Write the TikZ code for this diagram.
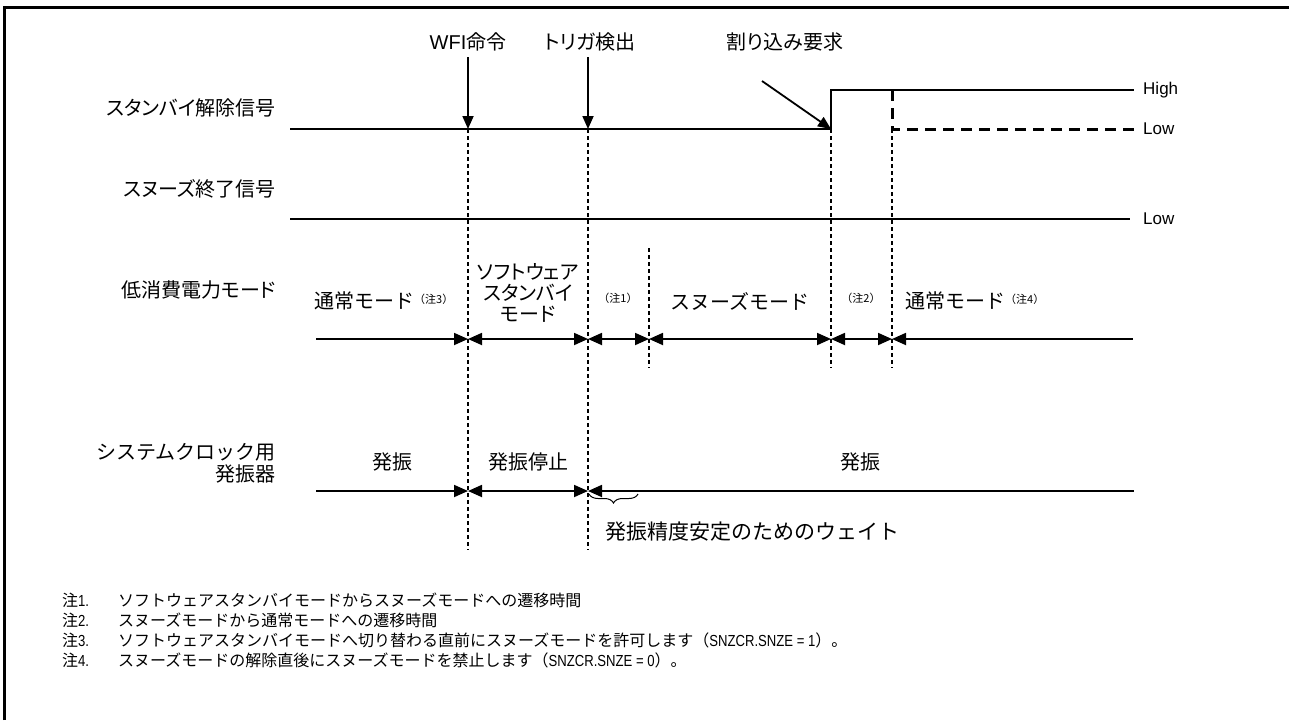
\documentclass[tikz,border=0pt]{standalone}
\usepackage{fontspec}
\usepackage{graphicx}
\setmainfont{Liberation Sans}
\newfontfamily\jp[RawFeature=+palt]{Noto Sans CJK JP}
\newfontfamily\jpw{Noto Sans CJK JP}
\newcommand{\narrowlat}[1]{\scalebox{0.82}[1]{\fontspec{Liberation Sans}#1}}
\usetikzlibrary{arrows.meta,decorations.pathreplacing}
\begin{document}
\begin{tikzpicture}[x=1pt,y=-1pt,
  frame/.style={line width=3pt},
  sig/.style={line width=1.8pt},
  vdash/.style={line width=1.1pt,dash pattern=on 4pt off 3pt},
  thickdash/.style={line width=3pt,dash pattern=on 11pt off 7pt},
  tri/.tip={Triangle[length=14pt,width=12pt]},
  span/.style={line width=1.8pt},
  downarr/.style={line width=1.8pt,-{Triangle[length=13pt,width=11pt]}},
  lbl/.style={font=\jp\fontsize{20}{21}\selectfont,inner sep=0pt},
  lblw/.style={font=\jpw\fontsize{20}{22}\selectfont,inner sep=0pt},
  toplbl/.style={font=\fontsize{20}{22}\selectfont,inner sep=0pt},
  lvl/.style={font=\fontsize{17}{19}\selectfont,inner sep=0pt,anchor=west},
  notetxt/.style={font=\jpw\fontsize{16}{18}\selectfont,inner sep=0pt,anchor=west},
  sup/.style={font=\jpw\fontsize{11}{12}\selectfont,inner sep=0pt}
]
\useasboundingbox (0,0) rectangle (1289,720);
% frame
\coordinate (fa) at (4,720);
\coordinate (fb) at (4,7);
\coordinate (fc) at (1289,7);
\draw[frame] (fa) -- (fb) -- (fc);

% left labels
\node[lbl,anchor=east] (l1) at (276,108) {スタンバイ解除信号};
\node[lbl,anchor=east] (l2) at (276,189) {スヌーズ終了信号};
\node[lbl,anchor=east] (l3) at (276,290) {低消費電力モード};
\node[lblw,anchor=east,align=right] (l4) at (276,463) {システムクロック用\\発振器};

% top labels
\node[toplbl] (t1) at (468,42) {WFI{\jp 命令}};
\node[toplbl] (t2) at (590,42) {\jp トリガ検出};
\node[toplbl] (t3) at (785,42) {\jp 割り込み要求};

% key coordinates
\coordinate (a0) at (290,129);
\coordinate (wL) at (468,129);
\coordinate (tL) at (588,129);
\coordinate (iL) at (831,129);
\coordinate (iH) at (831,90);
\coordinate (hE) at (1134,90);
\coordinate (dH) at (892,90);
\coordinate (dL) at (892,129);
\coordinate (lE) at (1134,129);
\coordinate (s0) at (290,219);
\coordinate (s1) at (1130,219);

% arrows from labels
\coordinate (wt) at (468,57);
\coordinate (tt) at (588,57);
\coordinate (it) at (762,81);
\draw[downarr] (wt) -- (wL);
\draw[downarr] (tt) -- (tL);
\draw[downarr] (it) -- (iL);

% standby release signal
\draw[sig] (a0) -- (iL) -- (iH) -- (hE);
\draw[thickdash] (dH) -- (dL) -- (lE);
\node[lvl] (hi) at (1143,90) {High};
\node[lvl] (lo1) at (1143,129) {Low};

% snooze end signal
\draw[sig] (s0) -- (s1);
\node[lvl] (lo2) at (1143,219) {Low};

% vertical dashed guide lines
\coordinate (wB) at (468,550);
\coordinate (tB) at (588,550);
\coordinate (iB) at (831,368);
\coordinate (dB) at (892,368);
\coordinate (nT) at (649,248);
\coordinate (nB) at (649,368);
\draw[vdash] (wL) -- (wB);
\draw[vdash] (tL) -- (tB);
\draw[vdash] (iL) -- (iB);
\draw[vdash] (dL) -- (dB);
\draw[vdash] (nT) -- (nB);

% low power mode row
\coordinate (m0) at (316,339);
\coordinate (m1) at (468,339);
\coordinate (m2) at (588,339);
\coordinate (m3) at (649,339);
\coordinate (m4) at (831,339);
\coordinate (m5) at (892,339);
\coordinate (m6) at (1133,339);
\draw[span,-{tri}] (m0) -- (m1);
\draw[span,{tri}-{tri}] (m1) -- (m2);
\draw[span,{tri}-{tri}] (m2) -- (m3);
\draw[span,{tri}-{tri}] (m3) -- (m4);
\draw[span,{tri}-{tri}] (m4) -- (m5);
\draw[span,{tri}-] (m5) -- (m6);

\node[lblw,anchor=west] (md1) at (314,301) {通常モード\raisebox{5pt}{\fontsize{11}{12}\selectfont（注3）}};
\node[lbl,align=center] (md2) at (528,293) {ソフトウェア\\スタンバイ\\モード};
\node[sup] (md3) at (618,298) {（注1）};
\node[lblw] (md4) at (740,301) {スヌーズモード};
\node[sup] (md5) at (861,298) {（注2）};
\node[lblw,anchor=west] (md6) at (905,301) {通常モード\raisebox{5pt}{\fontsize{11}{12}\selectfont（注4）}};

% oscillator row
\coordinate (o0) at (316,491);
\coordinate (o1) at (468,491);
\coordinate (o2) at (588,491);
\coordinate (o3) at (1134,491);
\draw[span,-{tri}] (o0) -- (o1);
\draw[span,{tri}-{tri}] (o1) -- (o2);
\draw[span,{tri}-] (o2) -- (o3);
\node[lblw] (os1) at (392,462) {発振};
\node[lblw] (os2) at (528,462) {発振停止};
\node[lblw] (os3) at (860,462) {発振};

% brace
\coordinate (b0) at (589,494);
\coordinate (b1) at (638,494);
\draw[line width=1pt,decorate,decoration={brace,amplitude=9pt,mirror}] (b0) -- (b1);
\node[lblw,anchor=west,font=\jpw\fontsize{21}{22}\selectfont] (wait) at (605,532) {発振精度安定のためのウェイト};

% notes
\node[notetxt] (n1a) at (62,600) {注\narrowlat{1.}};
\node[notetxt] (n1b) at (118,600) {ソフトウェアスタンバイモードからスヌーズモードへの遷移時間};
\node[notetxt] (n2a) at (62,620) {注\narrowlat{2.}};
\node[notetxt] (n2b) at (118,620) {スヌーズモードから通常モードへの遷移時間};
\node[notetxt] (n3a) at (62,640) {注\narrowlat{3.}};
\node[notetxt] (n3b) at (118,640) {ソフトウェアスタンバイモードへ切り替わる直前にスヌーズモードを許可します（\narrowlat{SNZCR.SNZE = 1}）。};
\node[notetxt] (n4a) at (62,660) {注\narrowlat{4.}};
\node[notetxt] (n4b) at (118,660) {スヌーズモードの解除直後にスヌーズモードを禁止します（\narrowlat{SNZCR.SNZE = 0}）。};
\end{tikzpicture}
\end{document}
